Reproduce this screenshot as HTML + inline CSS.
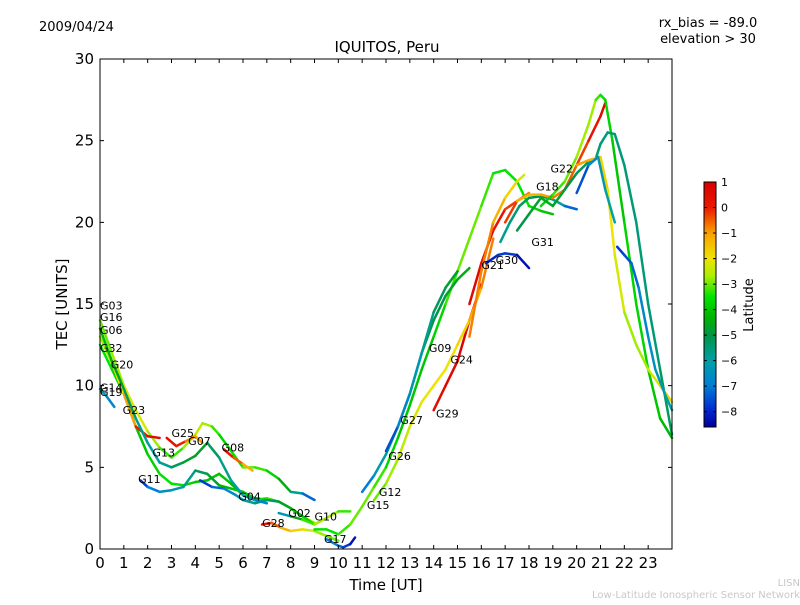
<!DOCTYPE html>
<html><head><meta charset="utf-8"><style>
body{margin:0;background:#fff;font-family:"Liberation Sans","DejaVu Sans",sans-serif}
svg text{font-family:"DejaVu Sans","Liberation Sans",sans-serif}
</style></head><body>
<svg id="chart" width="800" height="600" viewBox="0 0 800 600" xmlns="http://www.w3.org/2000/svg">
<rect width="800" height="600" fill="#fff"/>
<defs><linearGradient id="cmap" x1="0" y1="0" x2="0" y2="1"></linearGradient></defs>
<text x="39" y="31" font-size="13">2009/04/24</text>
<text x="708" y="27" font-size="13" text-anchor="middle">rx_bias = -89.0</text>
<text x="708" y="43" font-size="13" text-anchor="middle">elevation &gt; 30</text>
<text x="387" y="52" font-size="15" text-anchor="middle">IQUITOS, Peru</text>
<text x="386" y="590" font-size="15" text-anchor="middle">Time [UT]</text>
<text x="67" y="304" font-size="15" text-anchor="middle" transform="rotate(-90 67 304)">TEC [UNITS]</text>
<g id="marks"></g>
<g id="labels" font-size="11"></g>
<rect x="100" y="59" width="572" height="490" fill="none" stroke="#000" stroke-width="1"/>
<g id="axes" font-size="15"></g>
<rect x="704" y="182" width="12" height="245" fill="url(#cmap)" stroke="#000" stroke-width="1"/>
<g id="cbticks" font-size="11"></g>
<text x="753" y="305" font-size="13" text-anchor="middle" transform="rotate(-90 753 305)">Latitude</text>
<text x="800" y="586" font-size="10" fill="#c8c8c8" text-anchor="end">LISN</text>
<text x="800" y="598" font-size="10" fill="#c8c8c8" text-anchor="end">Low-Latitude Ionospheric Sensor Network</text>
</svg>
<script>
const xTicks=[0,1,2,3,4,5,6,7,8,9,10,11,12,13,14,15,16,17,18,19,20,21,22,23];
const yTicks=[0,5,10,15,20,25,30];
const cbTicks=[1,0,-1,-2,-3,-4,-5,-6,-7,-8];
const trackNames=["G16","G32","G23","G14","G11","G04","G28","G10","G17","G13","G25","G08","MAIN","G27","G24","G29","G21","G30","G31","G18","G22","TOP","TEAL","YEL","CYAN","BLUE","G09"];
const trackTimes=[
[0,.5,1,1.5,2,2.5,3,3.5,4,4.3,4.7,5,5.5,6,6.5,7,7.5,8,8.5,9],
[0,.5,1,1.5,2,2.5,3,3.5,4,4.5,5,5.5,6,6.5,7,7.5,8,8.5,9],
[0,.5,1,1.5,2,2.5],
[0,.3,.6],
[1.7,2,2.5,3,3.5,4,4.5,5,5.5,6,6.5,7],
[4.2,4.7,5.2,5.7,6,6.5,7,7.5,8,8.5,9],
[6.8,7.2,7.6,8,8.5,9,9.5,10],
[7.5,8,8.5,9,9.5,10,10.5],
[9.5,10,10.2,10.5,10.7],
[0,.5,1,1.5,2,2.5,3,3.5,4,4.5,5,5.5,6,6.5,7],
[2.8,3.2,3.6,4,4.3],
[5.2,5.6,6,6.4],
[9,9.5,10,10.5,11,11.5,12,12.5,13,13.5,14,14.5,15,15.5,16,16.5,17,17.5,18,18.5,19],
[11,11.5,12,12.5,13,13.5,14,14.5,15,15.5],
[14,14.5,15,15.5,16],
[11.5,12,12.5,13,13.5,14,14.5,15,15.5,16,16.5],
[15.5,16,16.5,17,17.5,18],
[16.2,16.7,17,17.5,18],
[16.8,17.2,17.6,18,18.5,19,19.5,20],
[15.5,16,16.5,17,17.5,17.8],
[17,17.5,18,18.5,19,19.5,20,20.5,21,21.2],
[18.5,19,19.5,20,20.5,20.8,21,21.2,21.5,22,22.5,23,23.5,24],
[17.5,18,18.5,19,19.5,20,20.5,20.8,21,21.3,21.6,22,22.5,23,23.5,24],
[20,20.5,21,21.3,21.6,22,22.5,23,23.5,24],
[20,20.5,20.9,21.2,21.6],
[21.7,22,22.3,22.6,23,23.3,23.7,24],
[12,12.5,13,13.5,14,14.5,15]];
const trackValues=[
[14,12,10,8.5,7.2,6.2,5.6,6.2,7,7.7,7.5,7,6,5,5,4.8,4.3,3.5,3.4,3],
[12.5,11,9.5,7.5,5.8,4.6,4,3.9,4.1,4.2,4.6,4,3.3,3,3.1,2.9,2.5,2,1.6],
[13,11.4,9.5,7.5,6.9,6.8],
[9.8,9.3,8.7],
[4.2,3.8,3.5,3.6,3.8,4.8,4.6,3.9,3.7,3.5,3.1,3],
[4.2,3.8,3.7,3.3,3,2.8,3,2.9,2.5,2,1.5],
[1.5,1.6,1.3,1.1,1.2,1.1,.8,.5],
[2.2,2,1.8,1.5,1.9,2.3,2.3],
[.6,.2,.1,.3,.7],
[13.5,11.5,9.8,8,6.5,5.3,5,5.3,5.7,6.5,5.6,4.2,3.3,3,2.8],
[6.8,6.3,6.6,6.9,6.5],
[6.1,5.6,5.2,4.8],
[1.2,1.2,.9,1.5,2.6,3.8,5,6.8,8.8,11,13,15,17,19,21,23,23.2,22.5,21,20.7,20.5],
[3.5,4.5,5.8,7.5,9.5,12,14,15.5,16.5,17.2],
[8.5,10,11.5,14,16.2],
[3,4,5.5,7.5,9,10,11,12.5,14,16,19],
[15,17.5,19.5,20.8,21.3,21.8],
[17.5,18,18.1,18,17.2],
[18.8,20,21,21.5,21.6,21.4,21,20.8],
[13,17,20,21.5,22.5,22.9],
[20,21.3,21.7,21.7,21.5,22,23.5,25,26.5,27.3],
[21,21.7,22.5,24,26,27.5,27.8,27.5,25,20,15,11,8,6.8],
[19.5,20.5,21.5,21,22,23,23.7,23.9,24.8,25.5,25.4,23.5,20,15,11,7],
[23.5,23.8,24,22,18,14.5,12.5,11,10,9],
[21.8,23.5,24,22,20],
[18.5,18,17.5,16,13,11,9.5,8.5],
[6,7.5,9.5,12,14.5,16,17]];
const trackLats=[
[-3,-3,-2.5,-2,-2.5,-3,-3.5,-3,-2.5,-2.5,-3,-3.5,-4,-3,-3,-3.5,-4,-5,-6.5,-8],
[-3.5,-3.5,-4,-4,-4,-3.5,-3.5,-3.5,-4,-4,-4,-4,-4.5,-4,-3.5,-3,-3,-3,-2],
[-3,-2.5,-1.5,-0.5,0.5,0.8],
[-6,-6.5,-7],
[-8,-7.5,-6.5,-6.5,-6,-5.5,-5,-4.5,-4,-4,-3.5,-3.5],
[-8,-7.5,-7,-6.5,-6,-5.5,-5.5,-5,-4.5,-4,-3.5],
[0.5,0,-1,-1.5,-2,-2.5,-3,-3],
[-7,-5.5,-3.5,-3,-2.5,-3,-3.5],
[-7,-7,-7.5,-8,-8.5],
[-4,-4.5,-5,-5.5,-6,-6,-5.5,-5,-4.5,-5,-5.5,-6,-6,-6.5,-7],
[0.5,0.5,-0.5,-1,-1],
[0.5,0,-1,-1.5],
[-3.5,-3.5,-3.5,-3,-3,-3,-3.5,-4,-4,-4,-4,-3.5,-3,-3,-3,-3.5,-3.5,-3.5,-3.5,-4,-4],
[-7.5,-6.5,-6,-5.5,-5.5,-5,-5,-5,-4.5,-4.5],
[0.5,0.5,0.8,0.8,1],
[-3,-3,-2.5,-2.5,-2,-2,-2,-2,-1.5,-1,-0.5],
[0.8,0.5,0.5,0,-0.5,-1],
[-8,-8,-7.5,-8,-8.5],
[-6,-5.5,-5.5,-5,-5,-5.5,-6.5,-8],
[-1,-0.5,-1,-1.5,-2,-2.5],
[0.5,-1,-1.5,-1,-1,-0.5,-0.5,0,0.5,0.8],
[-4,-3.5,-3,-3,-2.5,-3,-3.5,-3.5,-4,-4,-3.5,-4,-4,-4.5,-4.5,-4.5],
[-5,-5,-4.5,-4.5,-5,-5,-5.5,-5.5,-5.5,-5.5,-5.5,-5.5,-5.5,-5.5,-5.5,-5],
[-1,-1,-1.5,-2,-2,-2.5,-3,-2.5,-2,-1.5],
[-8,-7,-6.5,-6,-6],
[-8,-7.5,-7.5,-7,-6.5,-6.5,-6,-6],
[-8,-7,-6.5,-6,-5.5,-5,-4.5]];
const labelNames=["G03","G16","G06","G32","G20","G14","G19","G23","G25","G07","G13","G08","G11","G04","G28","G02","G10","G17","G15","G12","G26","G27","G29","G09","G24","G21","G30","G31","G18","G22"];
const labelTimes=[0,0,0,0,.45,0,0,.95,3,3.7,2.2,5.1,1.6,5.8,6.8,7.9,9,9.4,11.2,11.7,12.1,12.6,14.1,13.8,14.7,16,16.6,18.1,18.3,18.9];
const labelValues=[14.9,14.2,13.4,12.3,11.3,9.9,9.6,8.5,7.1,6.6,5.9,6.2,4.3,3.2,1.6,2.2,2,0.6,2.7,3.5,5.7,7.9,8.3,12.3,11.6,17.4,17.7,18.8,22.2,23.3];
const X0=100,X1=672,Y0=549,Y1=59,XMAX=24,YMAX=30;
const xs=t=>X0+(X1-X0)*t/XMAX, ys=v=>Y0-(Y0-Y1)*v/YMAX;
const LATMAX=1,LATMIN=-8.6;
const cbY=l=>182+245*(LATMAX-l)/(LATMAX-LATMIN);
const STOPS=[[1,[215,0,0]],[0,[235,25,0]],[-1,[250,160,0]],[-2,[238,228,0]],[-2.7,[170,238,0]],[-3.5,[0,228,0]],[-4.3,[0,180,0]],[-5,[0,150,70]],[-6,[0,160,165]],[-7,[0,125,215]],[-8,[0,35,205]],[-8.6,[0,0,150]]];
function cmap(l){l=Math.max(LATMIN,Math.min(LATMAX,l));
for(let i=0;i<STOPS.length-1;i++){const a=STOPS[i],b=STOPS[i+1];
if(l<=a[0]&&l>=b[0]){const f=(a[0]-l)/(a[0]-b[0]);
const c=a[1].map((v,j)=>Math.round(v+(b[1][j]-v)*f));return `rgb(${c})`;}}
return 'rgb(0,0,150)';}
const NS="http://www.w3.org/2000/svg";
const grad=document.getElementById('cmap');
STOPS.forEach(s=>{const st=document.createElementNS(NS,'stop');
st.setAttribute('offset',(LATMAX-s[0])/(LATMAX-LATMIN));st.setAttribute('stop-color',`rgb(${s[1]})`);grad.appendChild(st);});
const marks=document.getElementById('marks');
for(let k=0;k<trackTimes.length;k++){
const g=document.createElementNS(NS,'g');


const T=trackTimes[k],V=trackValues[k],L=trackLats[k];
for(let i=0;i<T.length-1;i++){
const ln=document.createElementNS(NS,'line');


ln.setAttribute('x1',xs(T[i]));ln.setAttribute('y1',ys(V[i]));
ln.setAttribute('x2',xs(T[i+1]));ln.setAttribute('y2',ys(V[i+1]));
ln.setAttribute('stroke',cmap((L[i]+L[i+1])/2));
ln.setAttribute('stroke-width','2.5');ln.setAttribute('stroke-linecap','round');
g.appendChild(ln);}
marks.appendChild(g);}
const lg=document.getElementById('labels');
for(let i=0;i<labelNames.length;i++){
const t=document.createElementNS(NS,'text');


t.setAttribute('x',xs(labelTimes[i]));t.setAttribute('y',ys(labelValues[i])+4);
t.textContent=labelNames[i];lg.appendChild(t);}
const ax=document.getElementById('axes');
xTicks.forEach(v=>{const x=xs(v);
const l=document.createElementNS(NS,'path');


l.setAttribute('d',`M${x} ${Y0}v-4M${x} ${Y1}v4`);l.setAttribute('stroke','#000');ax.appendChild(l);
const t=document.createElementNS(NS,'text');


t.setAttribute('x',x);t.setAttribute('y',568);t.setAttribute('text-anchor','middle');t.textContent=v;ax.appendChild(t);});
yTicks.forEach(v=>{const y=ys(v);
const l=document.createElementNS(NS,'path');


l.setAttribute('d',`M${X0} ${y}h4M${X1} ${y}h-4`);l.setAttribute('stroke','#000');ax.appendChild(l);
const t=document.createElementNS(NS,'text');


t.setAttribute('x',94);t.setAttribute('y',y+5);t.setAttribute('text-anchor','end');t.textContent=v;ax.appendChild(t);});
const cb=document.getElementById('cbticks');
cbTicks.forEach(v=>{const y=cbY(v);
const l=document.createElementNS(NS,'path');


l.setAttribute('d',`M704 ${y}h3M716 ${y}h-3`);l.setAttribute('stroke','#000');cb.appendChild(l);
const t=document.createElementNS(NS,'text');


t.setAttribute('x',721);t.setAttribute('y',y+4);t.textContent=(v<0?'\u2212'+(-v):v);cb.appendChild(t);});
</script>
</body></html>
